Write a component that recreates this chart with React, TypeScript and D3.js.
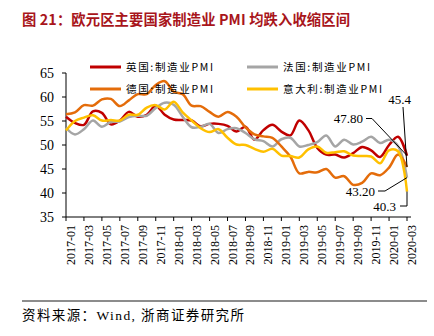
import React from "react";
import * as d3 from "d3";

const months = [
  "2017-01","2017-02","2017-03","2017-04","2017-05","2017-06","2017-07","2017-08","2017-09","2017-10","2017-11","2017-12",
  "2018-01","2018-02","2018-03","2018-04","2018-05","2018-06","2018-07","2018-08","2018-09","2018-10","2018-11","2018-12",
  "2019-01","2019-02","2019-03","2019-04","2019-05","2019-06","2019-07","2019-08","2019-09","2019-10","2019-11","2019-12",
  "2020-01","2020-02","2020-03",
];

const ukPMI = [55.9,54.6,54.2,57.0,56.7,54.3,55.1,56.9,55.9,56.3,58.2,56.3,55.3,55.2,55.1,53.9,54.4,54.4,54.0,52.8,53.8,51.1,53.1,54.2,52.8,52.0,55.1,53.1,49.4,48.0,48.0,47.4,48.3,49.6,48.9,47.5,50.0,51.7,47.8];
const frPMI = [53.6,52.2,53.3,55.1,53.8,54.8,54.9,55.8,56.1,56.1,57.7,58.8,58.4,55.9,53.7,53.8,54.4,52.5,53.3,53.5,52.5,51.2,50.8,49.7,51.2,51.5,49.7,50.0,50.6,52.0,49.7,51.1,50.1,50.7,51.7,50.4,51.1,49.8,43.2];
const dePMI = [56.4,56.8,58.3,58.2,59.5,59.6,58.1,59.3,60.6,60.6,62.5,63.3,61.1,60.6,58.2,58.1,56.9,55.9,56.9,55.9,53.7,52.2,51.8,51.5,49.7,47.6,44.1,44.4,44.3,45.0,43.2,43.5,41.7,42.1,44.1,43.7,45.3,48.0,45.4];
const itPMI = [53.0,55.0,55.7,56.2,55.1,55.2,55.1,56.3,56.3,57.8,58.3,57.4,59.0,56.8,55.1,53.5,52.7,53.3,51.5,50.1,50.0,49.2,48.6,49.2,47.8,47.7,47.4,49.1,49.7,48.4,48.5,48.7,47.8,47.7,47.6,46.2,48.9,48.7,40.3];

const seriesNames = ["英国:制造业PMI", "法国:制造业PMI", "德国:制造业PMI", "意大利:制造业PMI"];
const yTicks = [35, 40, 45, 50, 55, 60, 65];

const title = "图 21：欧元区主要国家制造业 PMI 均跌入收缩区间";
const source = "资料来源：Wind, 浙商证券研究所";

export default function App() {
  const W = 434, H = 336;
  const x = d3.scalePoint<string>().domain(months).range([66, 407]);
  const y = d3.scaleLinear().domain([35, 65]).range([217, 73]);
  const colors = ["#C00000", "#A5A5A5", "#E46C0A", "#FFC000"];
  const data = [ukPMI, frPMI, dePMI, itPMI];
  const line = d3
    .line<number>()
    .x((_, i) => x(months[i]) as number)
    .y((d) => y(d))
    .curve(d3.curveCatmullRom.alpha(0.5));

  const last = months[months.length - 1];
  const xe = x(last) as number;
  const endUK = ukPMI[ukPMI.length - 1];
  const endFR = frPMI[frPMI.length - 1];
  const endDE = dePMI[dePMI.length - 1];
  const endIT = itPMI[itPMI.length - 1];

  const legendPos = [
    { lx: 90, ly: 67 },
    { lx: 247, ly: 67 },
    { lx: 90, ly: 89 },
    { lx: 247, ly: 89 },
  ];

  const serif = "'Liberation Serif', 'Times New Roman', 'Noto Sans CJK SC', serif";
  const cjk = "'Noto Sans CJK SC', sans-serif";

  return (
    <svg
      width={W}
      height={H}
      style={{ position: "absolute", left: 0, top: 0, background: "#fff" }}
    >
      <rect x={0} y={0} width={W} height={H} fill="#fff" />
      <text x={22} y={25} fontFamily={cjk} fontWeight="bold" fontSize={14.3} fill="#A8151B" textLength={328} lengthAdjust="spacing">
        {title}
      </text>

      {/* y axis */}
      <line x1={66} x2={66} y1={y(65)} y2={y(35)} stroke="#000" strokeWidth={1} />
      {yTicks.map((t) => (
        <g key={t}>
          <line x1={62} x2={66} y1={y(t)} y2={y(t)} stroke="#000" strokeWidth={1} />
          <text x={54} y={y(t)} dy="0.35em" textAnchor="end" fontFamily={serif} fontSize={14} fill="#000">
            {t}
          </text>
        </g>
      ))}

      {/* x axis */}
      <line x1={66} x2={411} y1={y(35)} y2={y(35)} stroke="#000" strokeWidth={1} />
      {months.map((m, i) =>
        i % 2 === 0 ? (
          <g key={m}>
            <line x1={x(m) as number} x2={x(m) as number} y1={y(35)} y2={y(35) + 4} stroke="#000" strokeWidth={1} />
            <text
              transform={`translate(${(x(m) as number) + 9},${y(35) + 8}) rotate(-90)`}
              textAnchor="end"
              fontFamily={serif}
              fontSize={12}
              fill="#000"
            >
              {m}
            </text>
          </g>
        ) : null
      )}

      {/* lines */}
      {data.map((vals, k) => (
        <path key={k} d={line(vals) || ""} fill="none" stroke={colors[k]} strokeWidth={2.5} strokeLinejoin="round" />
      ))}

      {/* legend */}
      {seriesNames.map((n, k) => (
        <g key={n}>
          <line x1={legendPos[k].lx} x2={legendPos[k].lx + 31} y1={legendPos[k].ly} y2={legendPos[k].ly} stroke={colors[k]} strokeWidth={3} />
          <text
            x={legendPos[k].lx + 36}
            y={legendPos[k].ly}
            dy="0.35em"
            fontFamily={cjk}
            fontSize={10.5}
            fill="#000"
            textLength={k === 3 ? 99 : 87}
            lengthAdjust="spacing"
          >
            {n}
          </text>
        </g>
      ))}

      {/* annotations */}
      <g stroke="#000" strokeWidth={1} fill="none">
        <line x1={403} y1={107} x2={xe} y2={y(endDE)} />
        <polyline points={`366,118.5 372,118.5 ${xe},${y(endUK)}`} />
        <polyline points={`378,191 385,191 ${xe},${y(endFR)}`} />
        <polyline points={`400,206 ${xe},206 ${xe},${y(endIT)}`} />
      </g>
      <g fontFamily={serif} fontSize={13} fill="#000">
        <text x={411} y={104} textAnchor="end">{d3.format(".1f")(endDE)}</text>
        <text x={363} y={123} textAnchor="end">{d3.format(".2f")(endUK)}</text>
        <text x={375} y={196} textAnchor="end">{d3.format(".2f")(endFR)}</text>
        <text x={396} y={211} textAnchor="end">{d3.format(".1f")(endIT)}</text>
      </g>

      {/* source */}
      <line x1={22} x2={427} y1={301} y2={301} stroke="#8C8C8C" strokeWidth={2} />
      <text x={22} y={320} fontFamily={serif} fontSize={13.5} fill="#000" textLength={222} lengthAdjust="spacing">
        {source}
      </text>
    </svg>
  );
}
